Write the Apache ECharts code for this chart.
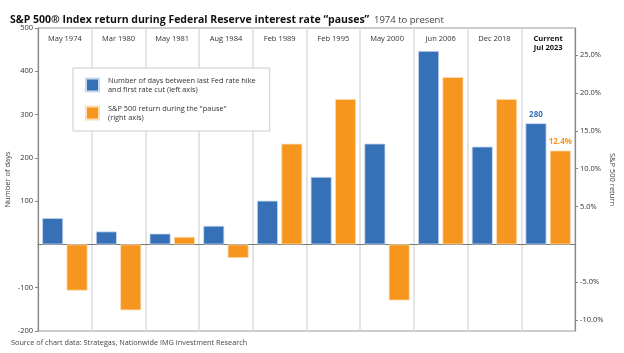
<!DOCTYPE html>
<html>
<head>
  <meta charset="utf-8" />
  <title>S&P 500 Index return during Federal Reserve interest rate pauses</title>
  <script src="https://cdn.jsdelivr.net/npm/echarts@6/dist/echarts.min.js"></script>
  <style>
    html, body { margin: 0; padding: 0; background: #fff; }
    #main { width: 624px; height: 353px; }
  </style>
</head>
<body>
<div id="main"></div>
<script>
  // data
  var pauses = ['May 1974', 'Mar 1980', 'May 1981', 'Aug 1984', 'Feb 1989', 'Feb 1995', 'May 2000', 'Jun 2006', 'Dec 2018', 'Current\nJul 2023'];
  var days = [61, 30, 25, 43, 101, 156, 233, 447, 226, 280];        // left axis
  var returns = [-6.1, -8.7, 1.0, -1.8, 13.3, 19.2, -7.4, 22.1, 19.2, 12.4]; // right axis, %
  var leftTicks = [-200, -100, 100, 200, 300, 400, 500];
  var rightTicks = [-10, -5, 5, 10, 15, 20, 25];

  var blue = '#3671b8';
  var orange = '#f7961e';
  var font = 'Open Sans';
  var last = pauses.length - 1;

  // only the current pause gets a value label
  var daysData = days.map(function (v, i) {
    if (i != last) return v;
    return { value: v, label: { show: true, position: 'top', color: blue, fontWeight: 'bold', fontSize: 8, formatter: '{c}' } };
  });
  var returnsData = returns.map(function (v, i) {
    if (i != last) return v;
    return { value: v, label: { show: true, position: 'top', color: orange, fontWeight: 'bold', fontSize: 8, formatter: function (p) { return p.value.toFixed(1) + '%'; } } };
  });

  var chart = echarts.init(document.getElementById('main'));
  var option = {
    animation: false,
    textStyle: { fontFamily: font },
    title: [{
      left: 5, top: 6,
      text: '{b|S&P 500® Index return during Federal Reserve interest rate “pauses”} {n|1974 to present}',
      textStyle: {
        rich: {
          b: { fontFamily: font, fontWeight: 'bold', fontSize: 10.5, color: '#111' },
          n: { fontFamily: font, fontWeight: 'normal', fontSize: 9.5, color: '#444' }
        }
      }
    }, {
      left: 6, bottom: 2,
      text: 'Source of chart data: Strategas, Nationwide IMG Investment Research',
      textStyle: { fontFamily: font, fontSize: 7.3, fontWeight: 'normal', color: '#444' }
    }],
    legend: {
      orient: 'vertical',
      left: 73, top: 68,
      padding: [8, 14, 9, 12],
      backgroundColor: '#fff',
      borderColor: '#ccc',
      borderWidth: 1,
      itemWidth: 13, itemHeight: 13, itemGap: 10,
      textStyle: { fontSize: 7.4, color: '#333', lineHeight: 9, padding: [0, 0, 0, 4] },
      data: [
        { name: 'Number of days between last Fed rate hike\nand first rate cut (left axis)', icon: 'rect' },
        { name: 'S&P 500 return during the "pause"\n(right axis)', icon: 'rect' }
      ]
    },
    grid: {
      left: 38, right: 49, top: 28, bottom: 22,
      outerBoundsMode: 'none',
      show: true, borderColor: '#999', borderWidth: 1
    },
    xAxis: [{
      type: 'category',
      data: pauses,
      axisLine: { onZero: true, lineStyle: { color: '#777', width: 1.2 } },
      axisTick: { show: false },
      axisLabel: { show: false, interval: 0 },
      splitLine: { show: true, interval: 0, lineStyle: { color: '#ddd', width: 1.5 } }
    }, {
      type: 'category',
      position: 'top',
      data: pauses,
      axisLine: { show: false },
      axisTick: { show: false },
      axisLabel: {
        inside: true, margin: 6, interval: 0,
        verticalAlign: 'top',
        fontSize: 7.5, color: '#333', lineHeight: 9,
        formatter: function (v, i) {
          if (i == last) return v.split('\n').map(function (s) { return '{b|' + s + '}'; }).join('\n');
          return v;
        },
        rich: { b: { fontSize: 7.5, fontWeight: 'bold', color: '#111', lineHeight: 9 } }
      }
    }],
    yAxis: [{
      type: 'value',
      min: -200, max: 500, interval: 100,
      name: 'Number of days',
      nameLocation: 'middle',
      nameMoveOverlap: false,
      nameGap: 26,
      nameTextStyle: { fontSize: 7.5, color: '#444' },
      axisLine: { show: true, lineStyle: { color: '#888', width: 1.2 } },
      axisTick: { show: true, length: 3, customValues: leftTicks, lineStyle: { color: '#888' } },
      axisLabel: { fontSize: 7.5, color: '#333', margin: 5, customValues: leftTicks },
      splitLine: { show: false }
    }, {
      type: 'value',
      min: -200 / 17.5, max: 500 / 17.5,
      name: 'S&P 500 return',
      nameLocation: 'middle',
      nameRotate: -90,
      nameMoveOverlap: false,
      nameGap: 33,
      nameTextStyle: { fontSize: 7.5, color: '#444' },
      axisLine: { show: true, lineStyle: { color: '#888', width: 1.2 } },
      axisTick: { show: true, length: 3, customValues: rightTicks, lineStyle: { color: '#888' } },
      axisLabel: {
        fontSize: 7.5, color: '#333', margin: 5, customValues: rightTicks,
        formatter: function (v) { return v.toFixed(1) + '%'; }
      },
      splitLine: { show: false }
    }],
    series: [{
      name: 'Number of days between last Fed rate hike\nand first rate cut (left axis)',
      type: 'bar',
      yAxisIndex: 0,
      barWidth: 21,
      barGap: '16%',
      itemStyle: { color: blue, borderColor: '#c9d9ee', borderWidth: 0.8 },
      data: daysData
    }, {
      name: 'S&P 500 return during the "pause"\n(right axis)',
      type: 'bar',
      yAxisIndex: 1,
      barWidth: 21,
      itemStyle: { color: orange, borderColor: '#fde0b8', borderWidth: 0.8 },
      data: returnsData
    }]
  };
  chart.setOption(option);
</script>
</body>
</html>
